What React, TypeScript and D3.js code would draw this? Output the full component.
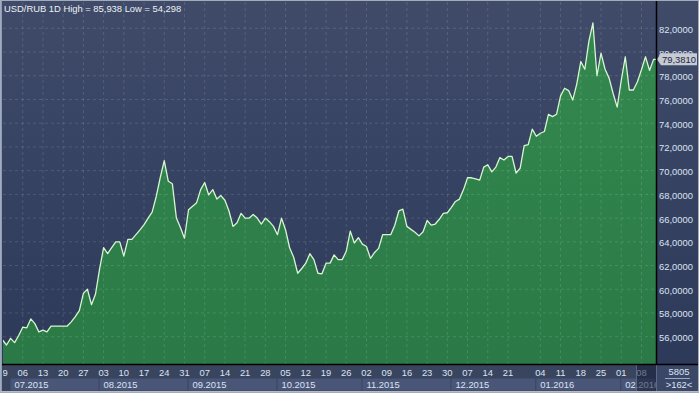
import React, { useMemo, useEffect } from "react";
import * as d3 from "d3";

// ---------- data ----------
const TITLE = "USD/RUB 1D High = 85,938 Low = 54,298";
const START_DATE = "2015-06-29";
const HOLIDAYS = ["2015-12-25", "2016-01-01"];
const USD_RUB = [
  55.72, 55.3, 55.86, 55.5, 56.1, 56.8, 56.75, 57.5, 57.1, 56.4,
  56.55, 56.4, 56.9, 56.9, 56.9, 56.9, 56.9, 57.25, 57.7, 58.2,
  59.65, 60.0, 58.7, 59.6, 61.7, 63.5, 63.0, 63.5, 64.0, 64.0,
  62.8, 64.2, 64.2, 64.6, 65.0, 65.45, 66.0, 66.5, 67.8, 69.4,
  70.84, 69.1, 68.9, 66.0, 65.2, 64.3, 66.7, 67.0, 67.3, 68.4,
  69.0, 67.95, 68.4, 67.6, 67.9, 67.5, 66.6, 65.3, 65.6, 66.4,
  66.0, 66.0, 66.3, 66.0, 65.5, 66.0, 65.7, 65.3, 64.6, 66.0,
  65.0, 63.5, 62.7, 61.35, 61.75, 62.2, 63.0, 62.5, 61.35, 61.3,
  62.2, 62.2, 62.9, 62.5, 62.5, 63.2, 64.9, 63.9, 64.35, 63.8,
  63.6, 62.6, 63.1, 63.45, 64.6, 64.6, 64.6, 65.4, 66.6, 66.75,
  65.3, 65.05, 64.8, 64.5, 64.85, 65.8, 65.4, 65.5, 65.9, 66.4,
  66.45, 66.9, 67.4, 67.6, 68.4, 69.4, 69.4, 69.3, 69.2, 70.3,
  70.5, 69.9, 70.3, 71.1, 70.9, 71.2, 71.2, 69.8, 70.2, 72.1,
  72.2, 73.5, 72.9, 73.15, 73.3, 74.75, 74.55, 74.75, 76.3, 76.95,
  76.75, 75.95, 77.3, 79.2, 78.55, 80.9, 82.45, 78.0, 79.9, 78.55,
  77.8, 76.5, 75.35, 77.6, 79.6, 76.8, 76.8, 77.5, 78.5, 79.6,
  78.45, 79.38,
];
const TICK_DATES = [
  "2015-06-29", "2015-07-06", "2015-07-13", "2015-07-20", "2015-07-27",
  "2015-08-03", "2015-08-10", "2015-08-17", "2015-08-24", "2015-08-31",
  "2015-09-07", "2015-09-14", "2015-09-21", "2015-09-28", "2015-10-05",
  "2015-10-12", "2015-10-19", "2015-10-26", "2015-11-02", "2015-11-09",
  "2015-11-16", "2015-11-23", "2015-11-30", "2015-12-07", "2015-12-14",
  "2015-12-21", "2016-01-04", "2016-01-11", "2016-01-18", "2016-01-25",
  "2016-02-01", "2016-02-08",
];
const PRICE_TICKS = [56, 58, 60, 62, 64, 66, 68, 70, 72, 74, 76, 78, 80, 82];
const LAST_PRICE = 79.381;
const FOOTER_TOP = "5805";
const FOOTER_BOTTOM = ">162<";

// ---------- layout ----------
const W = 699;
const H = 393;
const PL = 3;
const PR = 656;
const PT = 2;
const PB = 364;
const FONT = "'Liberation Sans', Arial, sans-serif";

function tradingDates(n: number): string[] {
  const out: string[] = [];
  const [y, m, d] = START_DATE.split("-").map(Number);
  let t = new Date(Date.UTC(y, m - 1, d));
  while (out.length < n) {
    const iso = t.toISOString().slice(0, 10);
    const wd = t.getUTCDay();
    if (wd !== 0 && wd !== 6 && !HOLIDAYS.includes(iso)) out.push(iso);
    t = new Date(t.getTime() + 86400000);
  }
  return out;
}

export default function App() {
  useEffect(() => {
    document.body.style.margin = "0";
  }, []);

  const dates = useMemo(() => tradingDates(USD_RUB.length), []);
  const barW = 4.044;
  const x = d3.scaleLinear().domain([0, USD_RUB.length - 1]).range([2.5, 2.5 + (USD_RUB.length - 1) * barW]);
  const y = d3.scaleLinear().domain([56, 82]).range([336.7, 28.3]);

  const pts: [number, number][] = USD_RUB.map((v, i) => [x(i), y(v)]);
  const ext: [number, number][] = [...pts, [PR, y(USD_RUB[USD_RUB.length - 1])]];
  const areaD = d3.area<[number, number]>().x((d) => d[0]).y0(PB).y1((d) => d[1])(ext) || "";
  const lineD = d3.line<[number, number]>().x((d) => d[0]).y((d) => d[1])(ext) || "";

  const ticks = TICK_DATES.map((s) => ({ i: dates.indexOf(s), label: s.slice(8, 10) })).filter((t) => t.i >= 0);

  // month boxes
  const months: { x0: number; label: string }[] = [];
  dates.forEach((s, i) => {
    const key = s.slice(0, 7);
    if (i === 0 || dates[i - 1].slice(0, 7) !== key) {
      if (i === 0 && s.slice(8, 10) !== "01") return;
      const day = Number(s.slice(8, 10));
      months.push({ x0: x(i) - (day !== 1 ? barW : 0), label: `${s.slice(5, 7)}.${s.slice(0, 4)}` });
    }
  });

  const fmt = (v: number) => v.toFixed(4).replace(".", ",");
  const ly = y(LAST_PRICE);

  return (
    <svg width={W} height={H} style={{ position: "fixed", left: 0, top: 0, display: "block" }} fontFamily={FONT}>
      <defs>
        <linearGradient id="bg" x1="0" y1="0" x2="0" y2="1">
          <stop offset="0" stopColor="#3f4b69" />
          <stop offset="1" stopColor="#2c3858" />
        </linearGradient>
        <linearGradient id="ar" x1="0" y1="0" x2="0" y2="1">
          <stop offset="0" stopColor="#34894f" />
          <stop offset="1" stopColor="#2a7946" />
        </linearGradient>
        <clipPath id="plot">
          <rect x={PL} y={PT} width={PR - PL} height={PB - PT} />
        </clipPath>
        <clipPath id="taxis">
          <rect x={PL} y={PB} width={PR - PL} height={H - PB} />
        </clipPath>
      </defs>

      <rect x={0} y={0} width={W} height={H} fill="url(#bg)" />

      <g clipPath="url(#plot)">
        <path d={areaD} fill="url(#ar)" />
        {ticks.map((t) => (
          <line key={"vg" + t.i} x1={x(t.i)} x2={x(t.i)} y1={PT} y2={PB} stroke="rgba(255,255,255,0.13)" strokeDasharray="3,3" />
        ))}
        {PRICE_TICKS.map((v) => (
          <line key={"hg" + v} x1={PL} x2={PR} y1={y(v)} y2={y(v)} stroke="rgba(255,255,255,0.13)" strokeDasharray="3,3" />
        ))}
        <path d={lineD} fill="none" stroke="#d6f6cf" strokeWidth={1.3} strokeLinejoin="round" />
      </g>

      <text x={4} y={11.5} fontSize={9.4} fill="#eef1f6">{TITLE}</text>

      {/* price axis labels */}
      {PRICE_TICKS.map((v) => (
        <text key={"pl" + v} x={659} y={y(v) + 4.5} fontSize={9.4} fill="#dbe3f3">{fmt(v)}</text>
      ))}
      {/* last price marker */}
      <polygon
        points={`${657},${ly} ${661},${ly - 6} ${697},${ly - 6} ${697},${ly + 6} ${661},${ly + 6}`}
        fill="#c6cad2"
      />
      <text x={662} y={ly + 3.6} fontSize={9.4} fill="#1c2542">{fmt(LAST_PRICE)}</text>

      {/* time axis */}
      <rect x={0} y={PB} width={PR} height={H - PB} fill="#39455f" />
      <g clipPath="url(#taxis)">
        {months.map((m, k) => {
          const x1 = k + 1 < months.length ? months[k + 1].x0 : PR;
          return (
            <g key={"m" + k}>
              <rect x={m.x0} y={378.5} width={x1 - m.x0 - 1} height={12} fill="#4a5677" />
              <text x={m.x0 + 4} y={387.5} fontSize={9.4} fill="#dbe3f3">{m.label}</text>
            </g>
          );
        })}
        {ticks.map((t) => (
          <text key={"tl" + t.i} x={x(t.i)} y={376} fontSize={9.4} fill="#dbe3f3" textAnchor="middle">{t.label}</text>
        ))}
        <rect x={636} y={365} width={20} height={26} fill="rgba(22,30,55,0.55)" />
        <line x1={636.5} x2={636.5} y1={365} y2={391} stroke="rgba(150,165,200,0.45)" />
      </g>

      {/* right bottom panel */}
      <rect x={PR} y={PB} width={W - PR} height={H - PB} fill="#3b4767" />
      <text x={679} y={375} fontSize={9.4} fill="#dbe3f3" textAnchor="middle">{FOOTER_TOP}</text>
      <line x1={665} x2={690} y1={378.5} y2={378.5} stroke="#b8c2d6" strokeWidth={0.8} />
      <text x={679} y={387.5} fontSize={9.4} fill="#dbe3f3" textAnchor="middle">{FOOTER_BOTTOM}</text>

      {/* separators */}
      <line x1={PR + 0.5} x2={PR + 0.5} y1={0} y2={PB} stroke="#000" strokeWidth={1.5} />
      <line x1={PR + 0.5} x2={PR + 0.5} y1={PB} y2={391} stroke="#5d6989" strokeWidth={1} />
      <line x1={0} x2={W} y1={PB + 0.5} y2={PB + 0.5} stroke="#000" strokeWidth={1.6} />

      {/* frame */}
      <rect x={0.5} y={0.5} width={W - 1} height={H - 1} fill="none" stroke="#a3abbb" strokeWidth={1} />
      <line x1={1.5} x2={1.5} y1={1} y2={H - 1} stroke="#8e9cba" strokeWidth={1} />
      <line x1={0} x2={W} y1={391.5} y2={391.5} stroke="#b7bcc6" strokeWidth={1} />
    </svg>
  );
}
